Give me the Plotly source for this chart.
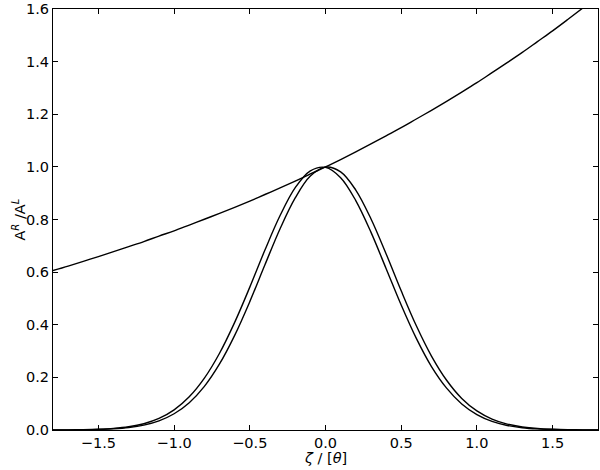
import plotly.graph_objects as go

x_vals = [-1.8, -1.7, -1.6, -1.5, -1.4, -1.3, -1.2, -1.1, -1.0, -0.9, -0.8, -0.7,
          -0.6, -0.5, -0.4, -0.3, -0.2, -0.1, 0.0, 0.1, 0.2, 0.3, 0.4, 0.5, 0.6,
          0.7, 0.8, 0.9, 1.0, 1.1, 1.2, 1.3, 1.4, 1.5, 1.6, 1.7, 1.8]

ratio_curve = [0.606, 0.623, 0.641, 0.659, 0.678, 0.697, 0.716, 0.737, 0.757, 0.779,
               0.801, 0.823, 0.846, 0.870, 0.895, 0.920, 0.946, 0.973, 1.000, 1.028,
               1.057, 1.087, 1.118, 1.149, 1.182, 1.215, 1.249, 1.284, 1.320, 1.358,
               1.396, 1.435, 1.476, 1.517, 1.560, 1.604, 1.649]

peak_left = [0.0002, 0.0005, 0.0012, 0.0028, 0.0060, 0.0123, 0.0239, 0.0439, 0.0765,
             0.1262, 0.1971, 0.2917, 0.409, 0.543, 0.684, 0.815, 0.921, 0.985, 0.998,
             0.959, 0.872, 0.752, 0.614, 0.475, 0.348, 0.241, 0.159, 0.0989, 0.0584,
             0.0326, 0.0173, 0.0087, 0.0041, 0.0019, 0.0008, 0.0003, 0.0001]

peak_right = [0.0001, 0.0004, 0.0009, 0.0020, 0.0045, 0.0093, 0.0185, 0.0347, 0.0617,
              0.1039, 0.1659, 0.2510, 0.3596, 0.488, 0.628, 0.765, 0.882, 0.965, 0.999,
              0.981, 0.912, 0.803, 0.670, 0.529, 0.396, 0.281, 0.189, 0.120, 0.0725,
              0.0415, 0.0224, 0.0115, 0.0056, 0.0026, 0.0011, 0.0005, 0.0002]

x_ticks = [-1.5, -1.0, -0.5, 0.0, 0.5, 1.0, 1.5]
y_ticks = [0.0, 0.2, 0.4, 0.6, 0.8, 1.0, 1.2, 1.4, 1.6]

x_title = "<i>ζ</i> / [<i>θ</i>]"
y_title = "A<sup><i>R</i></sup> /A<sup><i>L</i></sup>"

fig = go.Figure()
for ys in (ratio_curve, peak_left, peak_right):
    fig.add_trace(go.Scatter(x=x_vals, y=ys, mode="lines",
                             line=dict(color="black", width=1.4, shape="spline"),
                             showlegend=False, hoverinfo="skip"))

fnt = dict(family="DejaVu Sans", size=14.5, color="black")
fig.update_layout(
    width=600, height=470,
    margin=dict(l=53, r=2, t=9, b=40),
    paper_bgcolor="white", plot_bgcolor="white",
    font=fnt,
    xaxis=dict(range=[-1.8, 1.8], tickvals=x_ticks, tickformat=".1f",
               ticks="inside", ticklen=5, tickcolor="black", tickwidth=1,
               showline=True, linecolor="black", linewidth=1, mirror="allticks",
               showgrid=False, zeroline=False),
    yaxis=dict(range=[0, 1.6], tickvals=y_ticks, tickformat=".1f",
               ticks="inside", ticklen=5, tickcolor="black", tickwidth=1,
               showline=True, linecolor="black", linewidth=1, mirror="allticks",
               showgrid=False, zeroline=False),
    annotations=[
        dict(text=x_title, xref="paper", yref="paper", x=0.5, y=-0.066,
             xanchor="center", yanchor="middle", showarrow=False, font=fnt),
        dict(text=y_title, xref="paper", yref="paper", x=-0.064, y=0.5,
             xanchor="center", yanchor="middle", textangle=-90, showarrow=False, font=fnt),
    ],
)
fig.write_html("out.html", config={"displayModeBar": False},
               post_script="document.body.style.margin='0';document.body.style.overflow='hidden';")
